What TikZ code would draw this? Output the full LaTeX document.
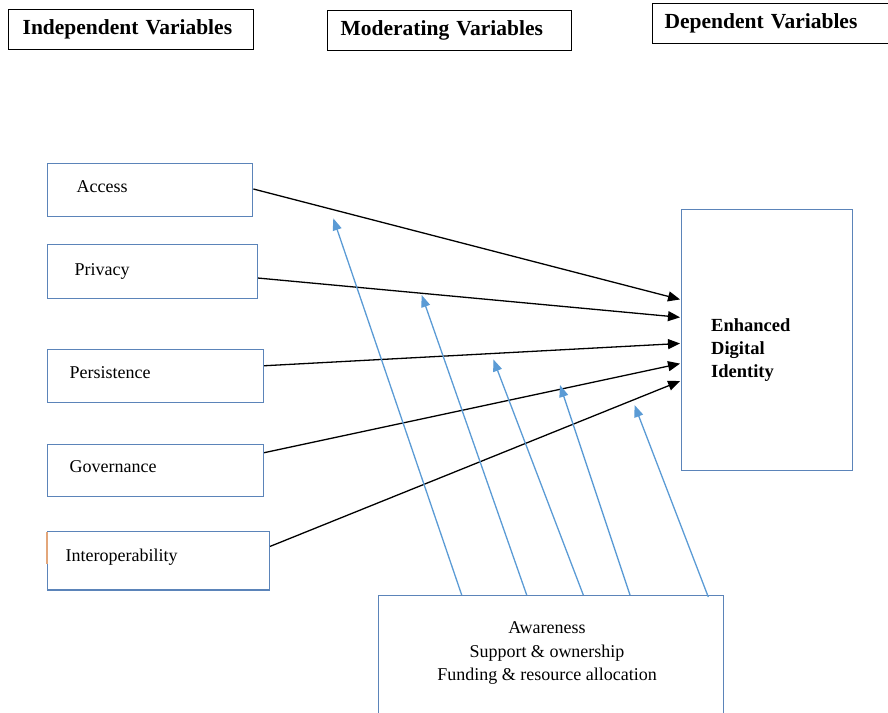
\documentclass[tikz,border=0pt]{standalone}
\usepackage{fontspec}
\setmainfont{Liberation Serif}
\usetikzlibrary{arrows.meta}
\definecolor{boxblue}{HTML}{5B84B9}
\definecolor{linkblue}{HTML}{5B9BD5}
\definecolor{tickorange}{HTML}{E3A67A}

\begin{document}
\begin{tikzpicture}[x=1pt,y=-1pt,
  titlebox/.style={draw=black, line width=1.3pt, minimum height=40pt, inner ysep=0pt,
    align=left, font=\fontsize{21.5}{24}\selectfont\bfseries, anchor=north west},
  varbox/.style={draw=boxblue, line width=1.4pt, inner ysep=0pt, align=left,
    text height=12pt, text depth=7pt,
    font=\fontsize{18}{22}\selectfont, anchor=north west},
  plainbox/.style={draw=boxblue, line width=1.4pt, inner sep=0pt, anchor=north west},
  link/.style={line width=1.3pt, shorten >=1pt, -{Triangle[length=12pt,width=10pt]}},
  modlink/.style={draw=linkblue, line width=1.3pt, -{Triangle[length=12pt,width=9pt]}}
]
\useasboundingbox (0,0) rectangle (888,712);

% column headings
\node[titlebox, inner xsep=14pt, text width=217pt] (indep) at (8,9) {Independent Variables};
\node[titlebox, inner xsep=13pt, text width=218pt] (moder) at (327,10) {Moderating Variables};
\node[titlebox, inner xsep=12pt, text width=230pt] (depend) at (652,3) {Dependent Variables};

% independent variables
\node[varbox, minimum height=53pt, inner xsep=29pt, text width=147pt] (access) at (47,163) {Access};
\node[varbox, minimum height=53.7pt, inner xsep=27pt, text width=155.7pt, text depth=5pt] (privacy) at (47,244) {Privacy};
\node[varbox, minimum height=52.7pt, inner xsep=22pt, text width=171.7pt] (persist) at (47,349) {Persistence};
\node[varbox, minimum height=52pt, inner xsep=22pt, text width=171.7pt, text depth=8pt] (govern) at (47,444) {Governance};
\node[varbox, minimum height=58.6pt, inner xsep=18pt, text width=185.7pt, text depth=10pt] (interop) at (47,530.7) {Interoperability};
\draw[tickorange, line width=1.2pt] ([yshift=-1.5pt]interop.north west) -- ++(0,32);

% dependent variable
\node[plainbox, minimum width=170.7pt, minimum height=261pt] (dep) at (681,209) {};
\node[anchor=west, align=left, inner sep=0pt,
  font=\fontsize{18.5}{23}\selectfont\bfseries] (deptext) at (711,350) {Enhanced\\Digital\\Identity};

% moderating variables
\node[plainbox, minimum width=344.7pt, minimum height=140pt] (mod) at (378,595) {};
\node[align=center, inner sep=0pt, font=\fontsize{18}{23.5}\selectfont] (modtext) at (547,653)
  {Awareness\\Support \& ownership\\Funding \& resource allocation};

% direct effects
\draw[link] ([yshift=1.2pt]access.east) -- ([yshift=40.5pt]dep.west);
\draw[link] ([yshift=-6.5pt]privacy.east) -- ([yshift=22.8pt]dep.west);
\draw[link] ([yshift=10.3pt]persist.east) -- ([yshift=-3.2pt]dep.west);
\draw[link] ([yshift=18pt]govern.east) -- ([yshift=-23.2pt]dep.west);
\draw[link] ([yshift=14.3pt]interop.east) -- ([yshift=-40.5pt]dep.west);

% moderating effects
\coordinate (m1) at (333.3,218.3);
\coordinate (m2) at (421.7,295);
\coordinate (m3) at (493.3,359.3);
\coordinate (m4) at (560,385);
\coordinate (m5) at (634.5,405);
\draw[modlink] ([xshift=83.7pt]mod.north west) -- (m1);
\draw[modlink] ([xshift=148.7pt]mod.north west) -- (m2);
\draw[modlink] ([xshift=205.3pt]mod.north west) -- (m3);
\draw[modlink] ([xshift=252pt]mod.north west) -- (m4);
\draw[modlink] ([xshift=330.3pt,yshift=-2pt]mod.north west) -- (m5);
\end{tikzpicture}
\end{document}
